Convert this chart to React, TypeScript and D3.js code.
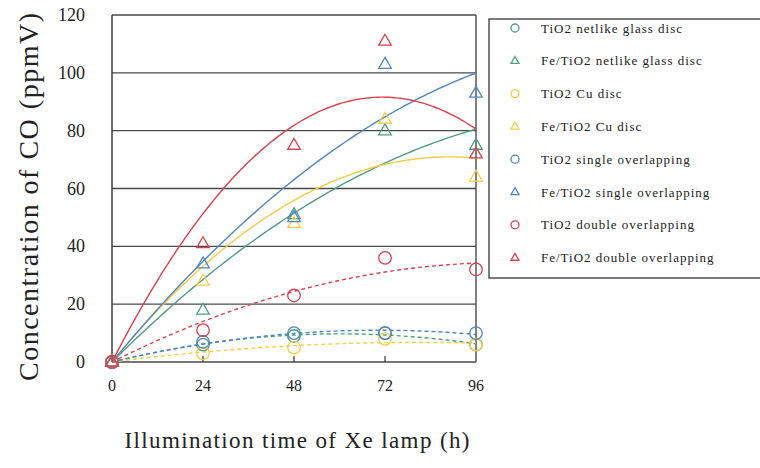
import * as d3 from 'd3'
import * as React from 'react'

//------------------------------data------------------------------
const times = [0, 24, 48, 72, 96]
const yTicks = [0, 20, 40, 60, 80, 100, 120]

const tio2Netlike = [0, 6, 9, 10, 6]
const feNetlike = [0, 18, 51, 80, 75]
const tio2Cu = [0, 3, 5, 8, 6]
const feCu = [0, 28, 48, 84, 64]
const tio2Single = [0, 7, 10, 10, 10]
const feSingle = [0, 34, 50, 103, 93]
const tio2Double = [0, 11, 23, 36, 32]
const feDouble = [0, 41, 75, 111, 72]

const seriesNames = [
  'TiO2 netlike glass disc',
  'Fe/TiO2 netlike glass disc',
  'TiO2 Cu disc',
  'Fe/TiO2 Cu disc',
  'TiO2 single overlapping',
  'Fe/TiO2 single overlapping',
  'TiO2 double overlapping',
  'Fe/TiO2 double overlapping'
]
const seriesValues = [
  tio2Netlike,
  feNetlike,
  tio2Cu,
  feCu,
  tio2Single,
  feSingle,
  tio2Double,
  feDouble
]
const GREEN = '#4f9c84'
const YELLOW = '#f2cd4a'
const BLUE = '#4f86c0'
const RED = '#d4434f'
const seriesColors = [GREEN, GREEN, YELLOW, YELLOW, BLUE, BLUE, RED, RED]

//------------------------------layout------------------------------
const WIDTH = 760
const HEIGHT = 468
const LEFT = 112
const RIGHT = 476
const TOP = 15
const BOTTOM = 362
const FONT = '"Liberation Serif", "DejaVu Serif", serif'

const x = d3.scaleLinear().domain([0, 96]).range([LEFT, RIGHT])
const y = d3.scaleLinear().domain([0, 120]).range([BOTTOM, TOP])

// order-2 polynomial trendline through the origin (least squares)
const fitQuad = (xs: number[], ys: number[]) => {
  let s2 = 0, s3 = 0, s4 = 0, sxy = 0, sx2y = 0
  xs.forEach((xv, i) => {
    s2 += xv * xv
    s3 += xv ** 3
    s4 += xv ** 4
    sxy += xv * ys[i]
    sx2y += xv * xv * ys[i]
  })
  const det = s2 * s4 - s3 * s3
  const a = (sxy * s4 - s3 * sx2y) / det
  const b = (s2 * sx2y - s3 * sxy) / det
  return (t: number) => a * t + b * t * t
}

const trendLine = (vals: number[]) => {
  const f = fitQuad(times, vals)
  const pts = d3.range(0, 96.5, 1).map(t => [t, f(t)] as [number, number])
  return d3
    .line<[number, number]>()
    .x(d => x(d[0]))
    .y(d => y(d[1]))
    .curve(d3.curveBasis)(pts) as string
}

const triPath = (cx: number, cy: number, s: number) => {
  const h = s * 0.87
  return `M${cx},${cy - h * 0.62}L${cx + s / 2},${cy + h * 0.38}L${cx - s / 2},${cy + h * 0.38}Z`
}

const Marker = ({ idx, cx, cy, size }: { idx: number; cx: number; cy: number; size: number }) => {
  const color = seriesColors[idx]
  if (idx % 2 === 0) {
    return <circle cx={cx} cy={cy} r={size / 2} fill="none" stroke={color} strokeWidth={1.3} />
  }
  return <path d={triPath(cx, cy, size)} fill="none" stroke={color} strokeWidth={1.3} />
}

//------------------------------Component------------------------------
export default function App() {
  return (
    <svg
      width={WIDTH}
      height={HEIGHT}
      style={{ position: 'absolute', left: 0, top: 0, background: '#fff' }}
    >
      {/* gridlines */}
      {yTicks.map(t => (
        <line key={t} x1={LEFT} x2={RIGHT} y1={y(t)} y2={y(t)} stroke="#4a4a4a" strokeWidth={1.4} />
      ))}
      <line x1={LEFT} x2={LEFT} y1={TOP} y2={BOTTOM} stroke="#333" strokeWidth={1.4} />
      <line x1={RIGHT} x2={RIGHT} y1={TOP} y2={BOTTOM} stroke="#4a4a4a" strokeWidth={1.4} />
      {times.slice(1, -1).map(t => (
        <line key={t} x1={x(t)} x2={x(t)} y1={BOTTOM} y2={BOTTOM - 6} stroke="#333" strokeWidth={1.2} />
      ))}

      {/* trendlines */}
      {seriesValues.map((vals, i) => (
        <path
          key={i}
          d={trendLine(vals)}
          fill="none"
          stroke={seriesColors[i]}
          strokeWidth={1.4}
          strokeDasharray={i % 2 === 0 ? '4,3' : undefined}
        />
      ))}

      {/* markers */}
      {seriesValues.map((vals, i) => (
        <g key={i}>
          {vals.map((v, j) => (
            <Marker key={j} idx={i} cx={x(times[j])} cy={y(v)} size={12.5} />
          ))}
        </g>
      ))}

      {/* tick labels */}
      {yTicks.map(t => (
        <text key={t} x={85} y={y(t) + 6} textAnchor="end" fontFamily={FONT} fontSize={18} fill="#222">
          {t}
        </text>
      ))}
      {times.map(t => (
        <text key={t} x={x(t)} y={391} textAnchor="middle" fontFamily={FONT} fontSize={16} fill="#222">
          {t}
        </text>
      ))}

      {/* axis titles */}
      <text
        transform={`translate(38,197) rotate(-90)`}
        textAnchor="middle"
        fontFamily={FONT}
        fontSize={28}
        textLength={368}
        lengthAdjust="spacing"
        fill="#222"
      >
        Concentration of CO (ppmV)
      </text>
      <text
        x={297}
        y={448}
        textAnchor="middle"
        fontFamily={FONT}
        fontSize={23}
        textLength={345}
        lengthAdjust="spacing"
        fill="#222"
      >
        Illumination time of Xe lamp (h)
      </text>

      {/* legend */}
      <rect x={489} y={19} width={320} height={259} fill="#fff" stroke="#444" strokeWidth={1.4} />
      {seriesNames.map((name, i) => {
        const ly = 28 + i * 32.8
        return (
          <g key={name}>
            <Marker idx={i} cx={515} cy={ly} size={8} />
            <text
              x={541}
              y={ly + 4.5}
              fontFamily={FONT}
              fontSize={13}
              letterSpacing={1}
              fill="#222"
            >
              {name}
            </text>
          </g>
        )
      })}
    </svg>
  )
}
